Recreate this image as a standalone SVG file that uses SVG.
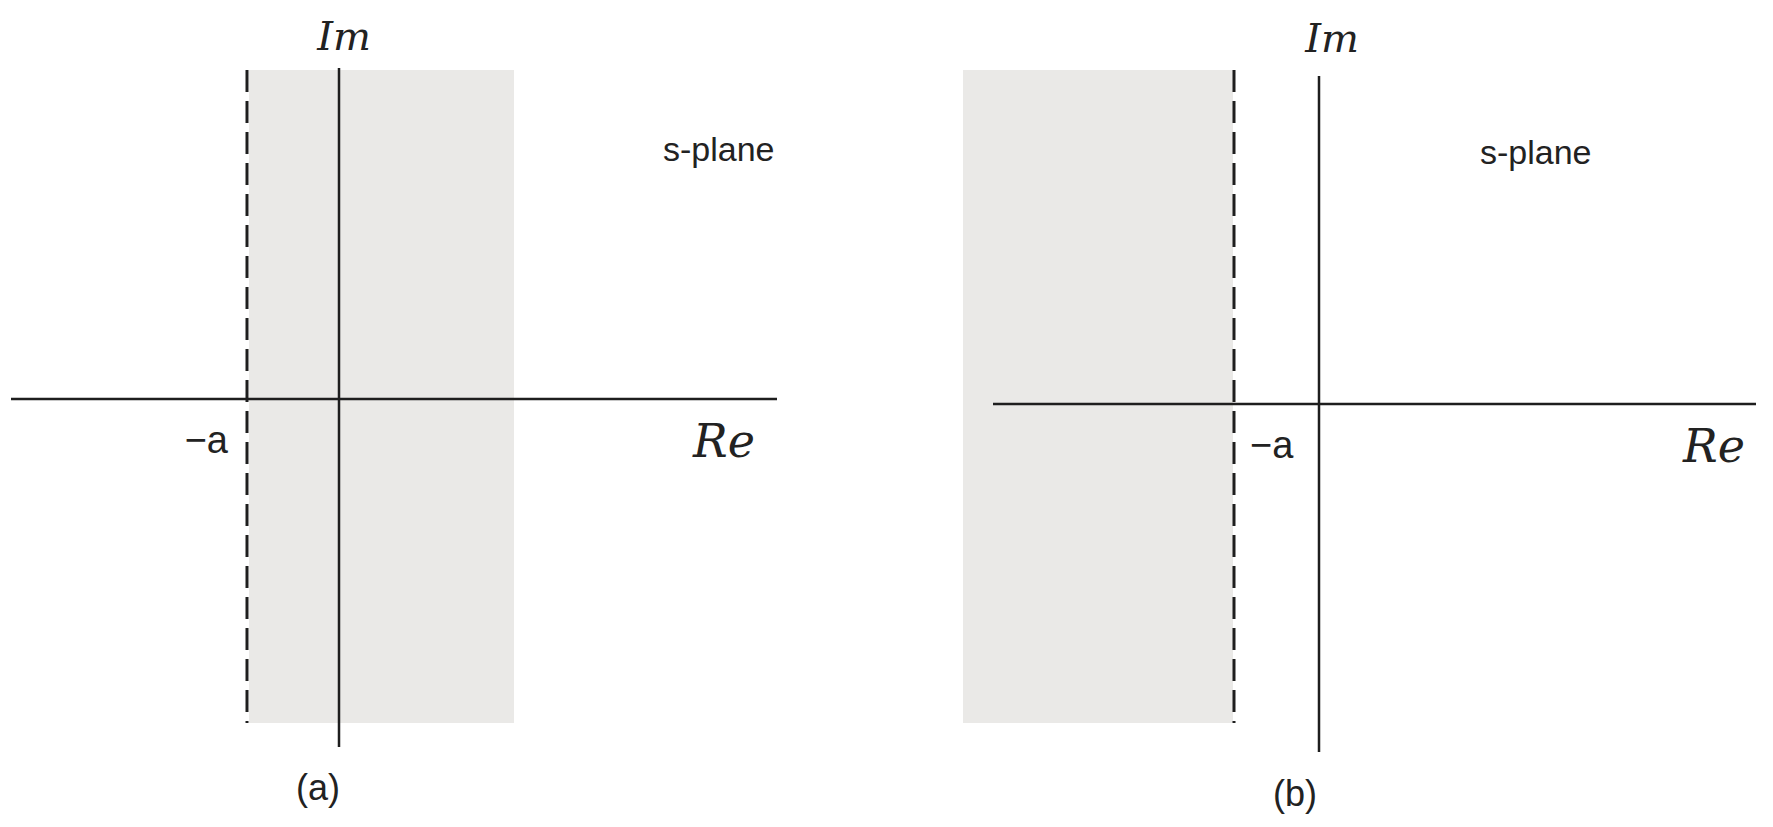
<svg xmlns="http://www.w3.org/2000/svg" width="1773" height="827" viewBox="0 0 1773 827">
<style>
.shade{fill:#eae9e7;stroke:none}
.axis{stroke:#1e1e1e;stroke-width:2.5;fill:none}
.dash{stroke:#1e1e1e;stroke-width:3;stroke-dasharray:22 9;fill:none}
.lbl{font-family:"Liberation Sans",Arial,sans-serif;fill:#222}
.scr{font-family:"DejaVu Serif","Liberation Serif",serif;font-style:italic;fill:#222}
</style>
<rect width="1773" height="827" fill="#ffffff"/>
<g id="panel-a">
  <rect id="region-a" class="shade" x="249" y="70" width="265" height="653"/>
  <g id="axes-a">
    <line class="dash" x1="247" y1="70" x2="247" y2="723"/>
    <line class="axis" x1="339" y1="68" x2="339" y2="747"/>
    <line class="axis" x1="11" y1="399" x2="777" y2="399"/>
  </g>
  <text class="scr" x="344" y="50" font-size="40" text-anchor="middle">Im</text>
  <text class="lbl" x="663" y="161" font-size="34">s-plane</text>
  <text class="lbl" x="228" y="453" font-size="38" text-anchor="end">−a</text>
  <text class="scr" x="693" y="457" font-size="46">Re</text>
  <text class="lbl" x="318" y="800" font-size="36" text-anchor="middle">(a)</text>
</g>
<g id="panel-b">
  <rect id="region-b" class="shade" x="963" y="70" width="270" height="653"/>
  <g id="axes-b">
    <line class="dash" x1="1234" y1="70" x2="1234" y2="723"/>
    <line class="axis" x1="1319" y1="76" x2="1319" y2="752"/>
    <line class="axis" x1="993" y1="404" x2="1756" y2="404"/>
  </g>
  <text class="scr" x="1332" y="52" font-size="40" text-anchor="middle">Im</text>
  <text class="lbl" x="1480" y="164" font-size="34">s-plane</text>
  <text class="lbl" x="1250" y="458" font-size="38">−a</text>
  <text class="scr" x="1683" y="462" font-size="46">Re</text>
  <text class="lbl" x="1295" y="806" font-size="36" text-anchor="middle">(b)</text>
</g>
</svg>
